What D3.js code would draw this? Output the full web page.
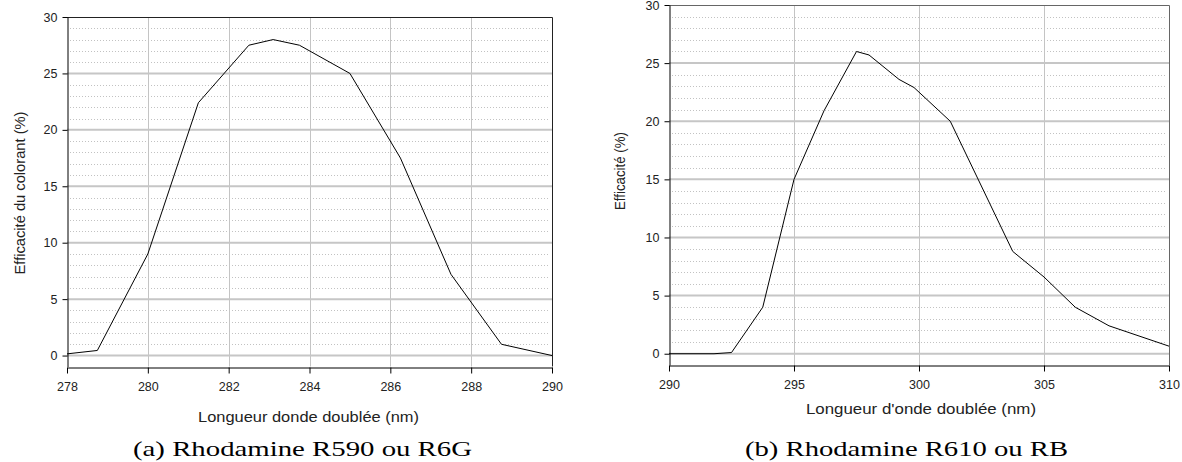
<!DOCTYPE html>
<html>
<head>
<meta charset="utf-8">
<script src="https://cdn.jsdelivr.net/npm/d3@7"></script>
<style>
  body { margin: 0; background: #fff; }
  svg { display: block; }
  .tick text { font-family: "Liberation Sans", Arial, sans-serif; font-size: 12.5px; fill: #222; }
  .axis-title { font-family: "Liberation Sans", Arial, sans-serif; font-size: 14px; fill: #222; }
  .caption { font-family: "Liberation Serif", "DejaVu Serif", serif; font-size: 21px; fill: #000; }
</style>
</head>
<body>
<svg id="chart"></svg>
<script>
// panel (a) : Rhodamine R590 / R6G
const wavelengthA = [278, 278.75, 280, 281.25, 282.5, 283.1, 283.75, 285, 286.25, 287.5, 288.75, 290];
const efficiencyA = [0.15, 0.45, 9, 22.4, 27.5, 28, 27.5, 25, 17.5, 7.2, 1, 0];
const xTicksA = [278, 280, 282, 284, 286, 288, 290];

// panel (b) : Rhodamine R610 / RB
const wavelengthB = [290, 291.8, 292.5, 293.75, 295, 296.2, 297.5, 298, 298.4, 299.2, 299.8, 301.25, 303.75, 305, 306.25, 307.6, 310];
const efficiencyB = [0, 0, 0.1, 4, 15, 20.9, 26, 25.7, 25, 23.6, 22.9, 20, 8.8, 6.6, 4, 2.4, 0.65];
const xTicksB = [290, 295, 300, 305, 310];

const yTicks = [0, 5, 10, 15, 20, 25, 30];
const yMinor = d3.range(1, 30).filter(v => v % 5 !== 0);

const width = 1182, height = 462;
const svg = d3.select('#chart').attr('width', width).attr('height', height);

function drawPanel(cfg) {
    const x = d3.scaleLinear().domain(cfg.xDomain).range([cfg.left, cfg.right]);
    const y = d3.scaleLinear().domain([-0.97, 30]).range([cfg.bottom, cfg.top]);
    const g = svg.append('g');

    // minor dotted gridlines
    g.selectAll('.minor')
        .data(yMinor)
        .enter()
        .append('line')
        .attr('x1', cfg.left + 3).attr('x2', cfg.right - 3)
        .attr('y1', d => Math.round(y(d)) + 0.5).attr('y2', d => Math.round(y(d)) + 0.5)
        .style('stroke', '#c2c2c2')
        .style('stroke-dasharray', '1,2');

    // vertical gridlines
    g.selectAll('.vgrid')
        .data(cfg.xTicks.slice(1, -1))
        .enter()
        .append('line')
        .attr('x1', d => Math.round(x(d)) + 0.5).attr('x2', d => Math.round(x(d)) + 0.5)
        .attr('y1', cfg.top).attr('y2', cfg.bottom)
        .style('stroke', '#c4c4c4');

    // major horizontal gridlines
    g.selectAll('.hgrid')
        .data(yTicks.slice(0, -1))
        .enter()
        .append('line')
        .attr('x1', cfg.left).attr('x2', cfg.right)
        .attr('y1', d => y(d)).attr('y2', d => y(d))
        .style('stroke', '#c6c6c6')
        .style('stroke-width', 2);

    // frame top / right
    g.append('path')
        .attr('d', `M${cfg.left},${cfg.top + 0.5}H${cfg.right + 0.5}V${cfg.bottom}`)
        .style('fill', 'none')
        .style('stroke', cfg.frameColor);

    // curve
    const line = d3.line().x(d => x(d[0])).y(d => y(d[1]));
    g.append('path')
        .datum(d3.zip(cfg.xs, cfg.ys))
        .attr('d', line)
        .style('fill', 'none')
        .style('stroke', '#000')
        .style('stroke-width', 1);

    // axes
    const xAxis = g.append('g')
        .attr('transform', `translate(0,${Math.round(cfg.bottom) + 0.5})`)
        .call(d3.axisBottom(x).tickValues(cfg.xTicks).tickSize(6).tickSizeOuter(0).tickPadding(9));
    const yAxis = g.append('g')
        .attr('transform', `translate(${Math.round(cfg.left) + 0.5},0)`)
        .call(d3.axisLeft(y).tickValues(yTicks).tickSize(5).tickSizeOuter(0).tickPadding(5));
    [xAxis, yAxis].forEach(a => {
        a.select('.domain').style('stroke', '#000');
        a.selectAll('.tick line').style('stroke', '#000');
        a.attr('font-family', null).attr('font-size', null);
    });

    g.append('text')
        .attr('class', 'axis-title')
        .attr('x', cfg.xTitleX)
        .attr('y', cfg.xTitleY)
        .attr('text-anchor', 'middle')
        .attr('textLength', cfg.xTitleLen)
        .attr('lengthAdjust', 'spacingAndGlyphs')
        .text(cfg.xTitle);

    g.append('text')
        .attr('class', 'axis-title')
        .attr('transform', `translate(${cfg.yTitleX},${cfg.yTitleY}) rotate(-90)`)
        .attr('text-anchor', 'middle')
        .attr('textLength', cfg.yTitleLen)
        .attr('lengthAdjust', 'spacingAndGlyphs')
        .text(cfg.yTitle);

    g.append('text')
        .attr('class', 'caption')
        .attr('x', cfg.captionX)
        .attr('y', 456)
        .attr('text-anchor', 'middle')
        .attr('textLength', cfg.captionLen)
        .attr('lengthAdjust', 'spacingAndGlyphs')
        .text(cfg.caption);
}

drawPanel({
    xs: wavelengthA, ys: efficiencyA, xTicks: xTicksA, xDomain: [278, 290],
    left: 67, right: 552, top: 17, bottom: 366.5,
    frameColor: '#222',
    xTitle: 'Longueur donde doublée (nm)', xTitleX: 308.5, xTitleY: 422, xTitleLen: 221,
    yTitle: 'Efficacité du colorant (%)', yTitleX: 25, yTitleY: 193, yTitleLen: 163,
    caption: '(a) Rhodamine R590 ou R6G', captionX: 302.5, captionLen: 339
});

drawPanel({
    xs: wavelengthB, ys: efficiencyB, xTicks: xTicksB, xDomain: [290, 310],
    left: 669, right: 1169, top: 5, bottom: 365,
    frameColor: '#666',
    xTitle: "Longueur d'onde doublée (nm)", xTitleX: 921, xTitleY: 414, xTitleLen: 230,
    yTitle: 'Efficacité (%)', yTitleX: 625, yTitleY: 171, yTitleLen: 78,
    caption: '(b) Rhodamine R610 ou RB', captionX: 906.5, captionLen: 323
});
</script>
</body>
</html>
